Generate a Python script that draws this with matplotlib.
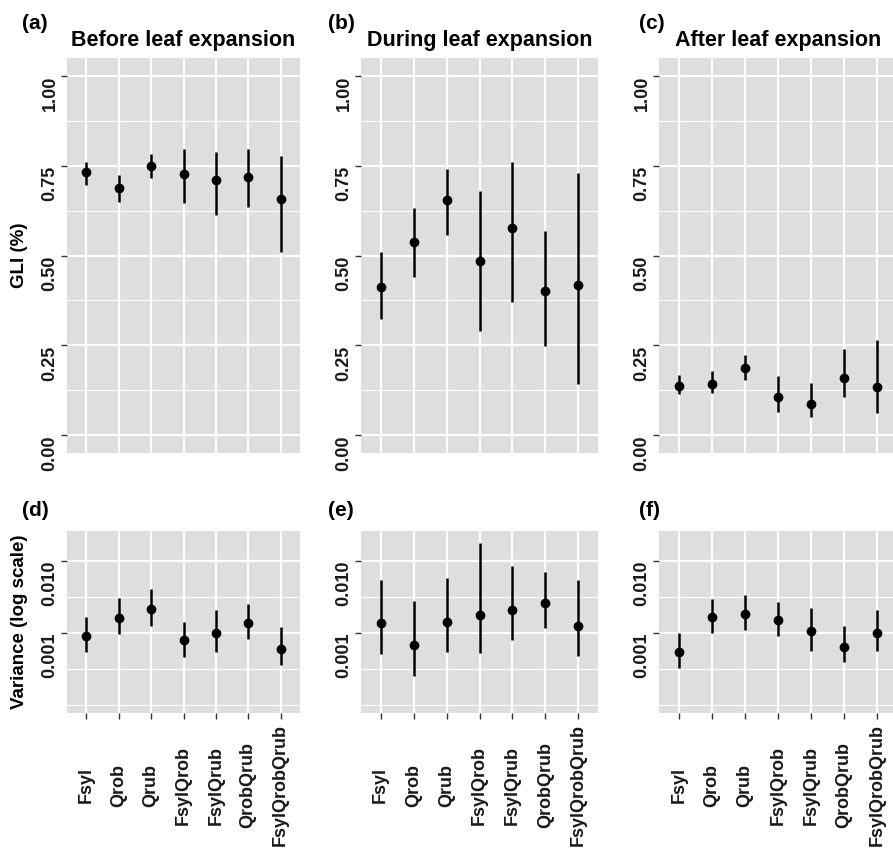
import numpy as np
import matplotlib
matplotlib.use("Agg")
import matplotlib.pyplot as plt
from matplotlib.ticker import FixedLocator, NullLocator

plt.rcParams['font.family'] = ['Liberation Sans', 'DejaVu Sans']
plt.rcParams['font.weight'] = 'bold'

categories = ['Fsyl', 'Qrob', 'Qrub', 'FsylQrob', 'FsylQrub', 'QrobQrub', 'FsylQrobQrub']
titles = ['Before leaf expansion', 'During leaf expansion', 'After leaf expansion']
tags = ['(a)', '(b)', '(c)', '(d)', '(e)', '(f)']

# GLI mean and interval, per period
gli_before = [0.733, 0.687, 0.750, 0.728, 0.710, 0.720, 0.657]
gli_before_lo = [0.697, 0.648, 0.717, 0.645, 0.613, 0.636, 0.511]
gli_before_hi = [0.761, 0.724, 0.782, 0.796, 0.789, 0.796, 0.778]

gli_during = [0.411, 0.538, 0.655, 0.486, 0.576, 0.402, 0.417]
gli_during_lo = [0.323, 0.441, 0.558, 0.290, 0.370, 0.248, 0.142]
gli_during_hi = [0.509, 0.631, 0.742, 0.680, 0.759, 0.569, 0.729]

gli_after = [0.137, 0.142, 0.186, 0.106, 0.086, 0.160, 0.134]
gli_after_lo = [0.114, 0.118, 0.152, 0.064, 0.051, 0.105, 0.062]
gli_after_hi = [0.168, 0.177, 0.222, 0.164, 0.146, 0.239, 0.266]

# variance (log scale) mean and interval
var_before = [0.000908, 0.00162, 0.00213, 0.00079, 0.00099, 0.00136, 0.00060]
var_before_lo = [0.000533, 0.00095, 0.00124, 0.000464, 0.000533, 0.00081, 0.000352]
var_before_hi = [0.00167, 0.00303, 0.00404, 0.00141, 0.00206, 0.0025, 0.00119]

var_during = [0.00135, 0.000667, 0.00142, 0.00174, 0.00204, 0.00258, 0.00125]
var_during_lo = [0.0005, 0.00025, 0.000533, 0.000527, 0.000783, 0.00117, 0.000469]
var_during_hi = [0.00538, 0.00275, 0.00568, 0.0178, 0.00843, 0.00703, 0.00538]

var_after = [0.000538, 0.00163, 0.00182, 0.0015, 0.00104, 0.00064, 0.0010]
var_after_lo = [0.00032, 0.00099, 0.00108, 0.00089, 0.000556, 0.000387, 0.000556]
var_after_hi = [0.00098, 0.00296, 0.00337, 0.0027, 0.00222, 0.00123, 0.00204]

gli_sets = [(gli_before, gli_before_lo, gli_before_hi),
            (gli_during, gli_during_lo, gli_during_hi),
            (gli_after, gli_after_lo, gli_after_hi)]
var_sets = [(var_before, var_before_lo, var_before_hi),
            (var_during, var_during_lo, var_during_hi),
            (var_after, var_after_lo, var_after_hi)]

W, H = 893, 850
fig = plt.figure(figsize=(W / 100, H / 100), dpi=100)

lefts = [67, 361, 659]
rights = [300, 598, 897]
rows = [(58, 453), (531, 713)]

panel_bg = '#DEDEDE'
tick_col = '#333333'
x = np.arange(1, len(categories) + 1)


def style(ax):
    ax.set_facecolor(panel_bg)
    for s in ax.spines.values():
        s.set_visible(False)
    ax.set_axisbelow(True)
    ax.grid(which='major', color='white', lw=1.6)
    ax.grid(which='minor', axis='y', color='white', lw=0.8)
    ax.set_xlim(0.4, len(categories) + 0.6)
    ax.set_xticks(x)
    ax.xaxis.set_minor_locator(NullLocator())
    ax.tick_params(axis='both', which='major', length=4, width=1, color=tick_col,
                   labelsize=13, labelcolor='#1a1a1a')
    ax.tick_params(axis='y', which='minor', length=0)
    ax.tick_params(axis='y', pad=2)
    for lab in ax.get_yticklabels():
        lab.set_rotation(90)
        lab.set_va('top')
        lab.set_fontweight('bold')


axes = []
for r, (top, bot) in enumerate(rows):
    for c in range(3):
        ax = fig.add_axes([lefts[c] / W, 1 - bot / H, (rights[c] - lefts[c]) / W, (bot - top) / H])
        axes.append(ax)
        if r == 0:
            mean, lo, hi = gli_sets[c]
            ax.vlines(x, lo, hi, color='black', lw=1.8)
            ax.plot(x, mean, 'o', ms=6, color='black')
            ax.set_ylim(-0.05, 1.05)
            ax.yaxis.set_major_locator(FixedLocator([0, 0.25, 0.5, 0.75, 1.0]))
            ax.yaxis.set_minor_locator(FixedLocator([0.125, 0.375, 0.625, 0.875]))
            ax.set_yticklabels(['0.00', '0.25', '0.50', '0.75', '1.00'])
            style(ax)
            ax.set_xticklabels([])
            ax.tick_params(axis='x', length=0)
            ax.set_title(titles[c], fontsize=15.5, fontweight='bold', pad=8.5)
        else:
            mean, lo, hi = var_sets[c]
            ax.set_yscale('log')
            ax.vlines(x, lo, hi, color='black', lw=1.8)
            ax.plot(x, mean, 'o', ms=6, color='black')
            ax.set_ylim(10 ** -4.116, 10 ** -1.588)
            ax.yaxis.set_major_locator(FixedLocator([0.001, 0.01]))
            ax.yaxis.set_minor_locator(FixedLocator([10 ** -4, 10 ** -3.5, 10 ** -2.5]))
            ax.yaxis.set_minor_formatter(plt.NullFormatter())
            ax.set_yticklabels(['0.001', '0.010'])
            style(ax)
            ax.set_xticklabels(categories, rotation=90, fontsize=13, fontweight='bold')
            ax.tick_params(axis='x', pad=48)
            for lab in ax.get_xticklabels():
                lab.set_va('center')

# y axis titles
fig.text(20 / W, 1 - 255 / H, 'GLI (%)', rotation=90, ha='center', va='center',
         fontsize=13.5, fontweight='bold')
fig.text(20 / W, 1 - 622 / H, 'Variance (log scale)', rotation=90, ha='center', va='center',
         fontsize=13.5, fontweight='bold')

# panel tags
tag_x = [22, 328, 639]
tag_y = [29, 516]
for i, t in enumerate(tags):
    fig.text(tag_x[i % 3] / W, 1 - tag_y[i // 3] / H, t, fontsize=15, fontweight='bold',
             ha='left', va='baseline')

fig.savefig('out.png', dpi=100)
